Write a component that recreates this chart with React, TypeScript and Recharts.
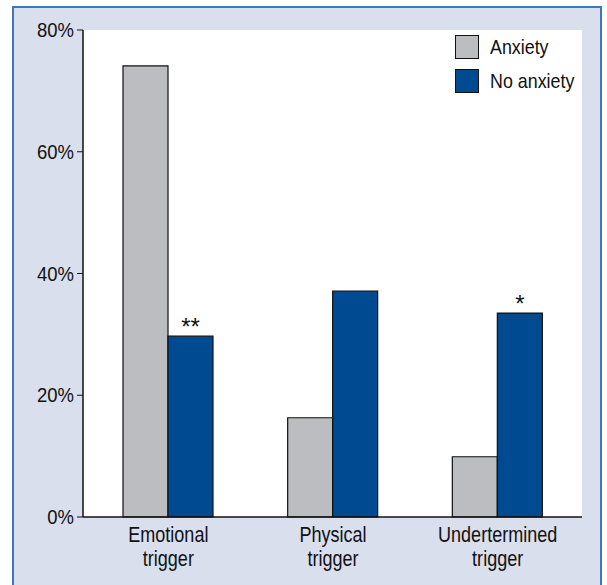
import React from 'react';
import { BarChart, Bar, XAxis, YAxis, CartesianGrid, LabelList } from 'recharts';

const categories = ['Emotional\ntrigger', 'Physical\ntrigger', 'Undertermined\ntrigger'];
const anxiety = [74.1, 16.3, 9.9];
const noAnxiety = [29.7, 37.1, 33.5];
const significance = ['**', '', '*'];
const yTicks = [0, 20, 40, 60, 80];
const seriesNames = ['Anxiety', 'No anxiety'];

const FONT = '"Liberation Sans", Arial, sans-serif';
const GRAY = '#bcbdc1';
const BLUE = '#004a91';

const data = categories.map((name, i) => ({
  name,
  anxiety: anxiety[i],
  noAnxiety: noAnxiety[i],
  sig: significance[i],
}));

// condensed look: squeeze the text horizontally around its anchor
const Narrow = ({ x, y, anchor, size, squeeze, children }: any) => (
  <g transform={`translate(${x},${y}) scale(${squeeze},1)`}>
    <text x={0} y={0} textAnchor={anchor} fontFamily={FONT} fontSize={size} fill="#111">
      {children}
    </text>
  </g>
);

const CategoryTick = ({ x, payload }: any) => {
  const lines = String(payload.value).split('\n');
  return (
    <g>
      {lines.map((l, i) => (
        <Narrow key={i} x={x} y={542 + i * 24} anchor="middle" size={22} squeeze={0.82}>
          {l}
        </Narrow>
      ))}
    </g>
  );
};

const PercentTick = ({ x, y, payload }: any) => (
  <Narrow x={x - 1} y={y + 7} anchor="end" size={21} squeeze={0.88}>
    {`${payload.value}%`}
  </Narrow>
);

const SigLabel = ({ x, y, width, value }: any) =>
  value ? (
    <text x={x + width / 2} y={y - 1} textAnchor="middle" fontFamily={FONT} fontSize={24} fill="#111">
      {value}
    </text>
  ) : null;

const LegendBox = () => (
  <div style={{ position: 'absolute', left: 455, top: 30, fontFamily: FONT, fontSize: 21, color: '#111' }}>
    {seriesNames.map((label, i) => (
      <div key={label} style={{ display: 'flex', alignItems: 'center', height: 34 }}>
        <span
          style={{
            display: 'inline-block',
            width: 22,
            height: 22,
            background: i === 0 ? GRAY : BLUE,
            border: '1px solid #111',
            marginRight: 11,
          }}
        />
        <span
          style={{
            display: 'inline-block',
            transform: 'scaleX(0.85)',
            transformOrigin: 'left center',
            whiteSpace: 'nowrap',
          }}
        >
          {label}
        </span>
      </div>
    ))}
  </div>
);

export default function App() {
  return (
    <div style={{ position: 'absolute', left: 0, top: 0, width: 607, height: 585 }}>
      <div
        style={{
          position: 'absolute',
          left: 12,
          top: 6,
          width: 590,
          height: 585,
          background: '#dadfee',
          border: '2px solid #3b78c0',
          boxSizing: 'border-box',
        }}
      />
      <div style={{ position: 'absolute', left: 0, top: 0 }}>
        <BarChart
          width={607}
          height={585}
          data={data}
          margin={{ top: 30, right: 25, bottom: 8, left: 23 }}
          barGap={0}
          barSize={45}
        >
          <CartesianGrid fill="#ffffff" stroke="none" />
          <XAxis
            dataKey="name"
            interval={0}
            tickLine={false}
            axisLine={{ stroke: '#111', strokeWidth: 1.5 }}
            tick={<CategoryTick />}
            height={60}
            padding={{ left: 3, right: 2 }}
          />
          <YAxis
            domain={[0, 80]}
            ticks={yTicks}
            width={60}
            axisLine={{ stroke: '#111', strokeWidth: 1.5 }}
            tickLine={{ stroke: '#111' }}
            tickSize={6}
            tick={<PercentTick />}
          />
          <Bar dataKey="anxiety" fill={GRAY} stroke="#111" strokeWidth={1.2} isAnimationActive={false} />
          <Bar dataKey="noAnxiety" fill={BLUE} stroke="#111" strokeWidth={1.2} isAnimationActive={false}>
            <LabelList dataKey="sig" content={<SigLabel />} />
          </Bar>
        </BarChart>
      </div>
      <LegendBox />
    </div>
  );
}
